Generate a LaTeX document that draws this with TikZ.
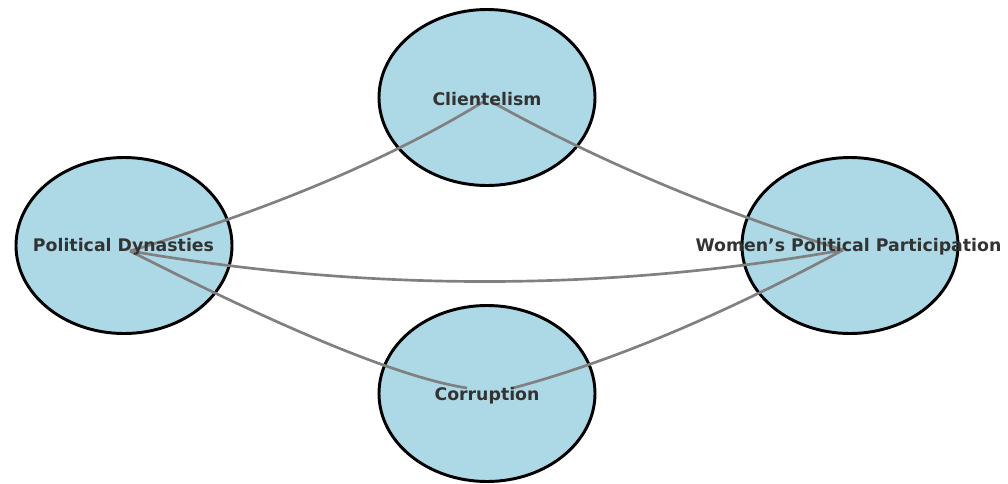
\documentclass[tikz,border=0pt]{standalone}
\usepackage{fontspec}
\setmainfont{DejaVu Sans}
\usetikzlibrary{shapes.geometric}
\definecolor{nodefill}{RGB}{173,216,230}
\definecolor{edgegray}{RGB}{128,128,128}
\definecolor{labelgray}{RGB}{51,51,51}
\begin{document}
\begin{tikzpicture}[x=0.75pt,y=-0.75pt,
  bubble/.style={ellipse,draw=black,fill=nodefill,line width=2.2pt,minimum width=162pt,minimum height=132pt,inner sep=0pt},
  link/.style={draw=edgegray,line width=2pt},
  lbl/.style={text=labelgray,font=\fontsize{13}{15}\selectfont\bfseries,inner sep=0pt}]
\useasboundingbox (0,0) rectangle (1008,483);
% ellipses
\node[bubble] (client) at (487,97.5) {};
\node[bubble] (pd) at (124,245.5) {};
\node[bubble] (women) at (850,245.5) {};
\node[bubble] (corr) at (487,393.5) {};
% edge end points
\coordinate (pdE) at (130,251);
\coordinate (clL) at (483,102);
\coordinate (clR) at (492,102);
\coordinate (woE) at (843,250);
\coordinate (coL) at (467,388);
\coordinate (coR) at (513,388);
% edges
\draw[link] (pdE) .. controls (271.3,209) and (389,159.3) .. (clL);
\draw[link] (clR) .. controls (598,160.7) and (715,210) .. (woE);
\draw[link] (pdE) .. controls (369.3,292) and (607,291.7) .. (woE);
\draw[link] (pdE) .. controls (290,332.3) and (402.3,378) .. (coL);
\draw[link] (coR) .. controls (610.3,362) and (720.3,316) .. (woE);
% labels
\node[lbl] (clientT) at (487,99) {Clientelism};
\node[lbl] (pdT) at (123.5,247) {Political Dynasties};
\node[lbl] (womenT) at (848.5,247) {Women’s Political Participation};
\node[lbl] (corrT) at (487,396) {Corruption};
\end{tikzpicture}
\end{document}
